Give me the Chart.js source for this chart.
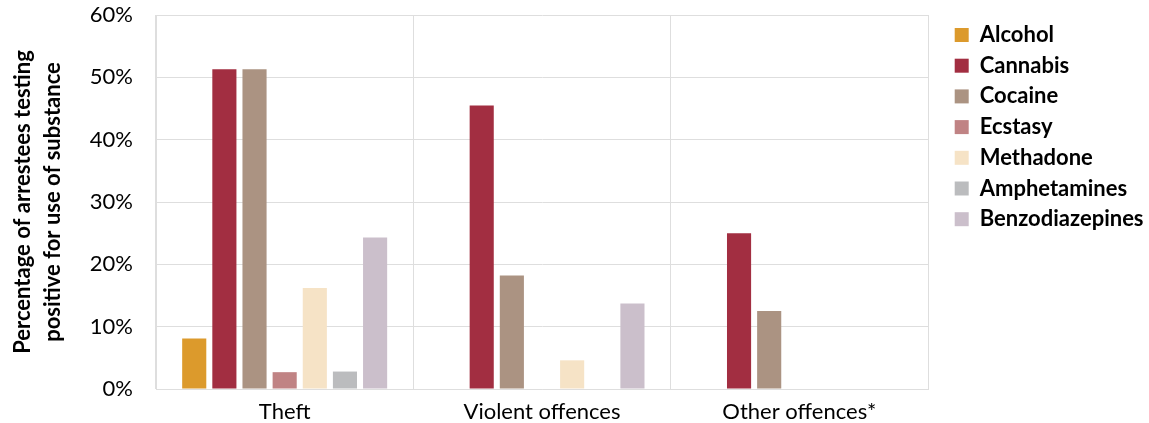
<!DOCTYPE html>
<html>
<head>
<meta charset="utf-8">
<script src="https://cdn.jsdelivr.net/npm/chart.js@4.4.0/dist/chart.umd.min.js"></script>
<style>
  html, body { margin: 0; padding: 0; background: #fff; }
  #wrap { width: 1149px; height: 423px; }
</style>
</head>
<body>
<div id="wrap"><canvas id="drugChart"></canvas></div>
<script>
// categories and series
const offences = ['Theft', 'Violent offences', 'Other offences*'];
const substances = ['Alcohol', 'Cannabis', 'Cocaine', 'Ecstasy', 'Methadone', 'Amphetamines', 'Benzodiazepines'];
const alcohol = [8.1, null, null];
const cannabis = [51.3, 45.5, 25.0];
const cocaine = [51.3, 18.2, 12.5];
const ecstasy = [2.7, null, null];
const methadone = [16.2, 4.6, null];
const amphetamines = [2.8, null, null];
const benzodiazepines = [24.3, 13.7, null];
const yTicks = [0, 10, 20, 30, 40, 50, 60];

const colours = ['#dc9a2c', '#a22e41', '#ab9382', '#c08384', '#f6e3c6', '#bbbcbe', '#cbbfcb'];
const seriesData = [alcohol, cannabis, cocaine, ecstasy, methadone, amphetamines, benzodiazepines];

document.addEventListener('DOMContentLoaded', () => {
    renderChart();
});

function renderChart() {
    const ctx = document.getElementById('drugChart').getContext('2d');
    const font = 'Lato, "Open Sans", sans-serif';
    const gridColour = '#dedede';

    new Chart(ctx, {
        type: 'bar',
        data: {
            labels: offences,
            datasets: substances.map((name, i) => ({
                label: name,
                data: seriesData[i],
                backgroundColor: colours[i],
                borderWidth: 0,
                categoryPercentage: 0.82,
                barPercentage: 0.8
            }))
        },
        options: {
            responsive: true,
            maintainAspectRatio: false,
            animation: false,
            layout: { padding: { left: 0, right: 0, top: 5, bottom: 2 } },
            plugins: {
                tooltip: { enabled: false },
                legend: {
                    position: 'right',
                    align: 'start',
                    maxWidth: 203,
                    title: { display: true, text: ' ', font: { size: 1 }, padding: { top: 0, bottom: 9.1 } },
                    labels: {
                        color: '#000',
                        font: { family: font, size: 22, weight: 'bold' },
                        boxWidth: 14,
                        boxHeight: 14,
                        padding: 8.7
                    }
                }
            },
            scales: {
                x: {
                    afterFit: axis => {
                        axis.height = 32;
                        axis.paddingLeft = 0;
                        axis.paddingRight = 0;
                    },
                    grid: { color: gridColour, offset: true, drawTicks: false },
                    border: { color: gridColour },
                    ticks: { color: '#000', font: { family: font, size: 22 }, padding: 10 }
                },
                y: {
                    min: 0,
                    max: 60,
                    afterFit: axis => {
                        axis.width = 156;
                        axis.paddingTop = 15;
                        axis.paddingBottom = 0;
                    },
                    afterBuildTicks: axis => { axis.ticks = yTicks.map(v => ({ value: v })); },
                    grid: { color: gridColour, drawTicks: false },
                    border: { color: gridColour },
                    ticks: {
                        color: '#000',
                        font: { family: font, size: 22 },
                        padding: 23,
                        callback: v => v + '%'
                    },
                    title: {
                        display: true,
                        text: ['Percentage of arrestees testing', 'positive for use of substance'],
                        color: '#000',
                        font: { family: font, size: 22, weight: 'bold', lineHeight: 1.35 },
                        padding: { top: 8, bottom: 0 }
                    }
                },
                // empty right-hand axis, only keeps a gap between plot and legend
                gap: {
                    position: 'right',
                    afterFit: axis => {
                        axis.width = 18;
                        axis.paddingTop = 0;
                        axis.paddingBottom = 0;
                    },
                    grid: { display: false },
                    border: { display: false },
                    ticks: { display: false }
                }
            }
        }
    });
}
</script>
</body>
</html>
